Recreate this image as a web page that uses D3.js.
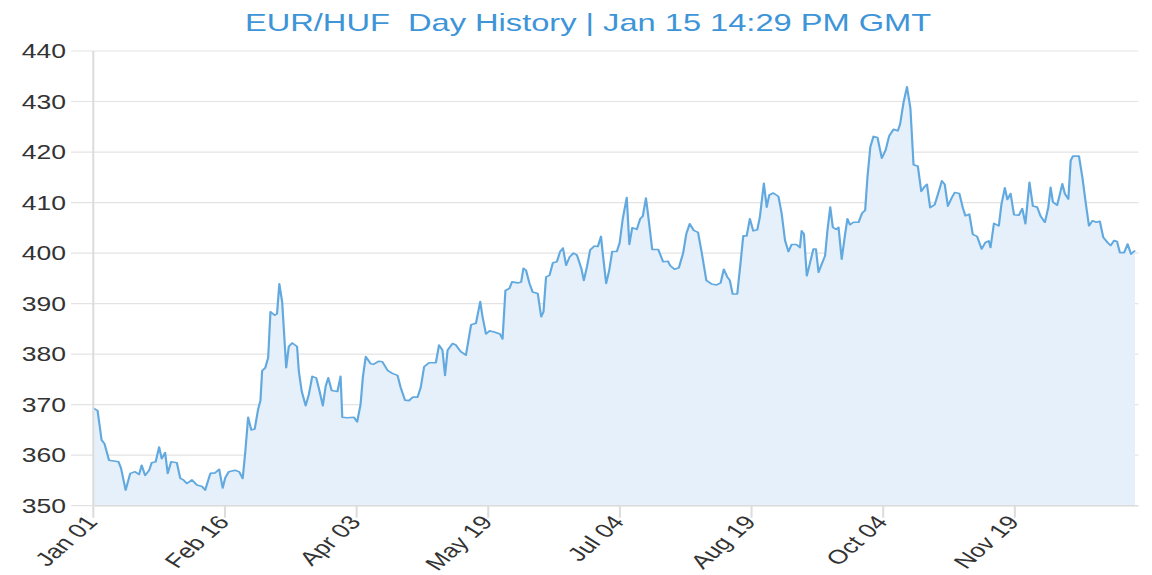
<!DOCTYPE html>
<html lang="en">
<head>
<meta charset="utf-8">
<title>EUR/HUF Day History</title>
<script src="https://cdn.jsdelivr.net/npm/d3@7"></script>
<style>
  html, body { margin: 0; padding: 0; background: #fff; }
  svg { display: block; font-family: "Liberation Sans", Arial, sans-serif; }
  .grid line { stroke: #e3e3e3; stroke-width: 1.2px; }
  .axis-line { stroke: #dcdcdc; stroke-width: 1.5px; }
  .tick-label { fill: #333; font-size: 19.5px; }
  .area { fill: #e5f0fa; }
  .line { fill: none; stroke: #62a9df; stroke-width: 1.6px; stroke-linejoin: round; }
  .title { fill: #3d95d8; font-size: 24px; }
</style>
</head>
<body>
<div id="chart"></div>
<script>
// days since Jan 01 and the EUR/HUF rate
var dayOffsets = [
  0, 1.5, 2.9, 3.9, 5.5, 8.8, 9.7, 11.3, 12.9, 14.6, 16, 16.9, 18.1, 19.5, 20.4, 21.8, 23, 23.9, 25.1, 26,
  27.2, 29.2, 30.4, 31.5, 32.7, 34.5, 36.2, 38, 39.1, 40.9, 42.6, 44, 45.2, 46.1, 47.3, 49.6, 51, 52.2, 53.1, 54.1,
  55.2, 56.4, 57.6, 58.4, 59, 60.1, 61.1, 61.9, 63.4, 64.2, 65, 66, 67.4, 68.3, 69.5, 71.2, 71.8, 72.8, 74.2, 75.3,
  76.5, 77.9, 79, 80.2, 81.2, 82.1, 83.3, 85.3, 86.4, 87, 88.7, 91.1, 92.2, 93.4, 94.2, 95.2, 96.9, 98, 99.8, 101,
  102.8, 104.5, 106.3, 107.4, 108.9, 110.3, 111.7, 113.3, 114.4, 115.6, 117.3, 119.7, 120.8, 122, 122.9, 123.8, 125.5, 126.7, 128.4, 130.2,
  132, 133.7, 135.2, 136, 137.2, 138.4, 140.1, 142.1, 143, 144, 145.4, 146.3, 148.3, 149.5, 150.3, 151.2, 152.4, 153.5, 155.3, 156.5,
  157.3, 158.2, 159.4, 160.6, 162, 163.1, 164.1, 165.2, 166.4, 167.8, 169, 170.5, 171.4, 172.5, 173.6, 175.1, 176.3, 177.4, 178, 179.2,
  180.3, 181.3, 182.9, 183.9, 185, 186.4, 187.3, 188.3, 189.9, 191.1, 192, 193.1, 193.8, 195.3, 197.4, 199.1, 200.8, 201.6, 203.1, 204.6,
  206.1, 207.2, 208.4, 209.8, 211.3, 212.5, 214.2, 216, 217.8, 219.2, 220.3, 221.5, 222.4, 223.4, 225, 226.2, 227.1, 228.3, 229.4, 230.6,
  232, 232.9, 234.3, 235.3, 236.2, 237.6, 239.4, 240.5, 241.7, 242.9, 244, 245.7, 246.9, 247.5, 248.3, 249.3, 250.2, 251.6, 252.5, 253.4,
  254.5, 255.7, 256.5, 257.5, 258.4, 259.6, 260.4, 261.5, 262.7, 263.5, 264.4, 265.6, 267.4, 268.6, 269.7, 270.5, 271.5, 272.6, 274, 275.5,
  276.8, 278.1, 279.6, 281.1, 281.9, 283.1, 284.3, 285.5, 286.6, 288.1, 289.3, 290.5, 291.3, 292.4, 294, 295.1, 296.5, 297.5, 298.6, 300,
  301, 302.6, 303.8, 304.7, 306.1, 307.3, 308.8, 310.4, 311.7, 312.9, 313.5, 314.7, 316.4, 317.3, 318.5, 319.4, 320.5, 321.7, 323.4, 324.6,
  325.7, 327.1, 328.3, 329.8, 331, 332.5, 333.7, 334.5, 335.3, 336.8, 338.6, 339.5, 340.7, 341.5, 342.3, 344.4, 345.6, 346.8, 347.9, 349.1,
  350.5, 351.7, 352.9, 354.4, 355.5, 356.7, 357.7, 358.7, 360.2, 361.4, 362.6, 364
];
var rates = [
  369.3, 368.8, 363, 362.3, 359, 358.7, 357.4, 353.1, 356.4, 356.7, 356.2, 358, 356, 357, 358.5, 358.7, 361.6, 359.3, 360.5, 356.4,
  358.7, 358.5, 355.4, 355.1, 354.4, 355.1, 354.1, 353.8, 353.1, 356.4, 356.5, 357.2, 353.5, 355.5, 356.7, 357, 356.7, 355.4, 360.6, 367.5,
  365, 365.2, 369.1, 370.8, 376.7, 377.3, 379.3, 388.4, 387.7, 388, 393.9, 390.3, 377.3, 381.5, 382.2, 381.5, 376.7, 372.7, 369.8, 372,
  375.6, 375.3, 372.8, 369.8, 373.7, 375.3, 372.8, 372.6, 375.6, 367.5, 367.4, 367.5, 366.6, 370.1, 375.5, 379.5, 378.1, 378, 378.6, 378.5,
  376.8, 376.2, 375.8, 373.4, 370.9, 370.8, 371.5, 371.5, 373.4, 377.5, 378.3, 378.3, 381.8, 380.8, 375.8, 380.8, 382.1, 381.8, 380.5, 379.8,
  385.8, 386.1, 390.4, 387.4, 384, 384.6, 384.4, 384, 383, 392.6, 393, 394.3, 394.1, 394.3, 397, 396.6, 394, 392.3, 392, 387.4,
  388.4, 395.3, 395.6, 398.1, 398.3, 400.3, 401, 397.6, 399.2, 400, 399.6, 397, 394.6, 397.3, 400.6, 401.4, 401.3, 403.3, 400, 394,
  396.7, 400.3, 400.3, 402, 406.8, 411, 401.7, 405, 404.7, 406.8, 407.3, 410.9, 407.8, 400.7, 400.7, 398.3, 398.4, 397.5, 396.8, 397.1,
  400, 403.8, 405.8, 404.5, 404.1, 400.4, 394.6, 393.9, 393.7, 394.1, 396.8, 395.3, 394.6, 391.9, 391.9, 398.3, 403.4, 403.4, 406.8, 404.4,
  404.6, 407.1, 413.8, 409.1, 411.5, 411.9, 411.2, 407.9, 402.5, 400.3, 401.7, 401.7, 401.1, 404.4, 403.8, 395.5, 397.5, 400.8, 400.8, 396.2,
  397.8, 399.5, 404.4, 409.1, 405.1, 404.7, 405.1, 398.8, 403.8, 406.8, 405.6, 406.1, 406.1, 407.9, 408.5, 415, 421, 423.1, 422.9, 418.8,
  420.3, 423.2, 424.5, 424.2, 425.5, 429.8, 432.9, 428.7, 417.5, 417.2, 412.2, 413.2, 413.6, 409, 409.6, 411.6, 414.3, 413.6, 409.3, 411,
  412, 411.8, 409, 407.4, 407.7, 403.7, 403.3, 400.8, 402.1, 402.4, 401.1, 405.9, 405.4, 409.6, 412.9, 410.6, 411.8, 407.6, 407.5, 408.8,
  405.8, 414, 409.3, 409.1, 407.3, 406.1, 409.1, 413, 410.1, 409.5, 413.7, 411.7, 410.7, 418.3, 419.2, 419.2, 415, 409.8, 405.4, 406.4,
  406.1, 406.3, 403.1, 402.1, 401.5, 402.5, 402.3, 400.1, 400.1, 401.8, 399.8, 400.5
];
var yTicks = [350, 360, 370, 380, 390, 400, 410, 420, 430, 440];
var xTickDates = ["2022-01-01", "2022-02-16", "2022-04-03", "2022-05-19", "2022-07-04", "2022-08-19", "2022-10-04", "2022-11-19"];
var titleText = "EUR/HUF  Day History | Jan 15 14:29 PM GMT";

// the reference is stretched sideways, so draw narrow and stretch the whole svg
var outerW = 1152, outerH = 575, stretch = 1.36;
var W = outerW / stretch, H = outerH;
var margin = {left: 68.6, right: W - 834.6, top: 51, bottom: H - 505.7};

var parse = d3.timeParse("%Y-%m-%d");
var start = parse("2022-01-01");
var data = dayOffsets.map(function(d, i) {
  return {date: new Date(start.getTime() + d * 864e5), value: rates[i]};
});

var x = d3.scaleTime()
  .domain([start, parse("2022-12-31")])
  .range([margin.left, W - margin.right]);
var y = d3.scaleLinear()
  .domain([350, 440])
  .range([H - margin.bottom, margin.top]);

var svg = d3.select("#chart").append("svg")
  .attr("width", outerW)
  .attr("height", outerH)
  .attr("viewBox", "0 0 " + W + " " + H)
  .attr("preserveAspectRatio", "none");

// title
svg.append("text")
  .attr("class", "title")
  .attr("x", 432.4)
  .attr("y", 31.5)
  .attr("text-anchor", "middle")
  .style("white-space", "pre")
  .text(titleText);

// horizontal grid + y labels
var grid = svg.append("g").attr("class", "grid");
grid.selectAll("line").data(yTicks).enter().append("line")
  .attr("x1", 52.2)
  .attr("x2", 837)
  .attr("y1", function(d) { return y(d); })
  .attr("y2", function(d) { return y(d); });

svg.append("g").selectAll("text").data(yTicks).enter().append("text")
  .attr("class", "tick-label")
  .attr("x", 48.5)
  .attr("y", function(d) { return y(d); })
  .attr("dy", "0.36em")
  .attr("text-anchor", "end")
  .text(function(d) { return d; });

// area + line
svg.append("path")
  .datum(data)
  .attr("class", "area")
  .attr("d", d3.area()
    .x(function(d) { return x(d.date); })
    .y0(y(350))
    .y1(function(d) { return y(d.value); }));

svg.append("path")
  .datum(data)
  .attr("class", "line")
  .attr("d", d3.line()
    .x(function(d) { return x(d.date); })
    .y(function(d) { return y(d.value); }));

// axis lines
svg.append("line").attr("class", "axis-line")
  .attr("x1", x(start)).attr("x2", x(start))
  .attr("y1", y(440)).attr("y2", y(350));
svg.append("line").attr("class", "axis-line")
  .attr("x1", x(start)).attr("x2", 837)
  .attr("y1", y(350)).attr("y2", y(350));

// x ticks + rotated labels
var fmt = d3.timeFormat("%b %d");
var xt = svg.append("g").selectAll("g").data(xTickDates.map(parse)).enter().append("g");
xt.append("line").attr("class", "axis-line")
  .attr("x1", function(d) { return x(d); })
  .attr("x2", function(d) { return x(d); })
  .attr("y1", y(350))
  .attr("y2", y(350) + 12);
xt.append("text")
  .attr("class", "tick-label")
  .attr("text-anchor", "end")
  .attr("transform", function(d) { return "translate(" + (x(d) + 4) + "," + (y(350) + 17) + ") rotate(-50)"; })
  .text(fmt);
</script>
</body>
</html>
